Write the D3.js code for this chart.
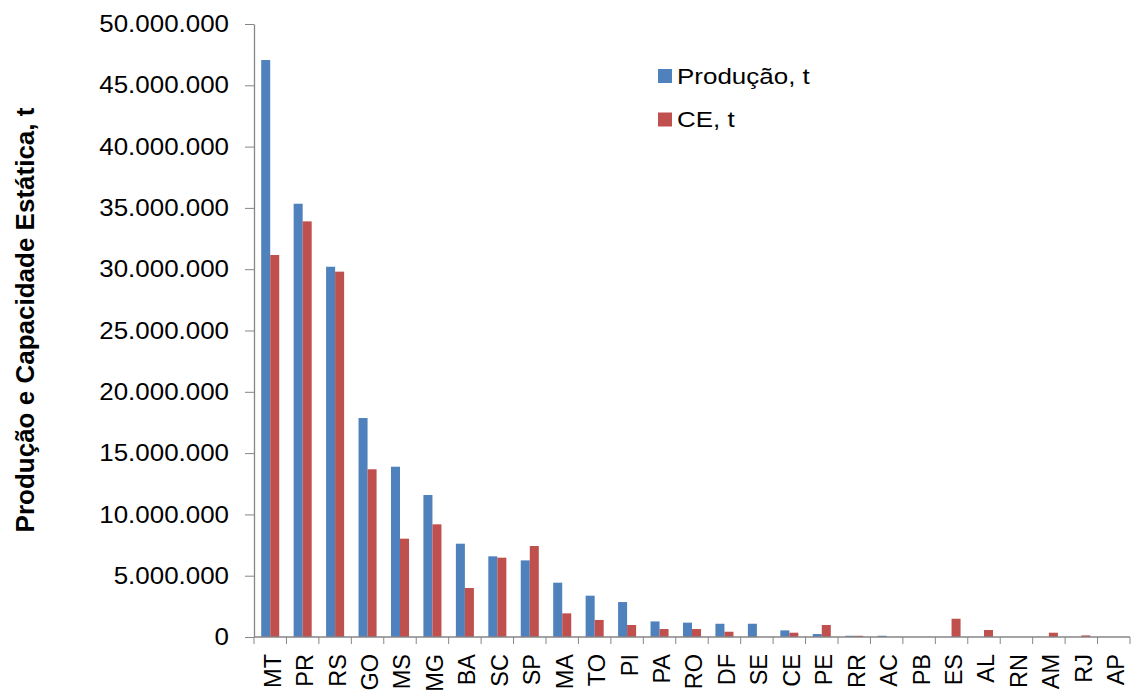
<!DOCTYPE html>
<meta charset="utf-8">
<style>
  body { margin: 0; background: #fff; }
  svg { display: block; font-family: Arial, "Liberation Sans", sans-serif; }
  .axis path, .axis line { stroke: #868686; }
  .ytick text { font-size: 24px; fill: #000; }
  .xtick text { font-size: 23.5px; fill: #000; }
  .legend text { font-size: 22px; }
</style>
<body>
<div id="chart"></div>
<script src="https://d3js.org/d3.v7.min.js"></script>
<script>
const states = ["MT","PR","RS","GO","MS","MG","BA","SC","SP","MA","TO","PI","PA","RO","DF","SE","CE","PE","RR","AC","PB","ES","AL","RN","AM","RJ","AP"];
const producao = [47060000,35340000,30200000,17860000,13890000,11580000,7610000,6580000,6250000,4430000,3370000,2850000,1270000,1170000,1080000,1080000,540000,240000,100000,100000,0,0,0,0,0,0,0];
const ce = [31160000,33900000,29800000,13680000,8020000,9190000,4000000,6470000,7420000,1930000,1390000,980000,650000,650000,430000,0,350000,980000,100000,0,0,1490000,570000,0,350000,130000,0];
const seriesNames = ["Produção, t", "CE, t"];
const seriesColors = ["#4F81BD", "#C0504D"];
const yTicks = [0,5000000,10000000,15000000,20000000,25000000,30000000,35000000,40000000,45000000,50000000];

const width = 1131, height = 693;
const plotLeft = 254, plotRight = 1130, plotTop = 24, plotBottom = 637;

const svg = d3.select("#chart").append("svg")
  .attr("width", width)
  .attr("height", height);

const x0 = d3.scaleBand()
  .domain(states)
  .range([plotLeft, plotRight])
  .paddingInner(0.444)
  .paddingOuter(0.222);

const x1 = d3.scaleBand()
  .domain([0, 1])
  .range([0, x0.bandwidth()]);

const y = d3.scaleLinear()
  .domain([0, 50000000])
  .range([plotBottom, plotTop]);

const ptBR = d3.formatLocale({decimal: ",", thousands: ".", grouping: [3], currency: ["", ""]});
const fmt = ptBR.format(",d");

// y axis (labels stretched a little, like the source rendering)
const yAxis = svg.append("g")
  .attr("class", "axis ytick")
  .attr("transform", `translate(${plotLeft},0)`)
  .call(d3.axisLeft(y).tickValues(yTicks).tickFormat(fmt).tickSize(9).tickPadding(16).tickSizeOuter(0));
yAxis.select(".domain").attr("stroke-width", 1.3);
yAxis.selectAll(".tick text").each(function() {
  const w = this.getComputedTextLength();
  d3.select(this).attr("textLength", w * 1.08).attr("lengthAdjust", "spacingAndGlyphs");
});

// bars
const data = states.map((s, i) => ({state: s, values: [producao[i], ce[i]]}));
const groups = svg.selectAll(".grp")
  .data(data)
  .join("g")
  .attr("class", "grp")
  .attr("transform", d => `translate(${x0(d.state)},0)`);

groups.selectAll("rect")
  .data(d => d.values.map((v, k) => ({k, v})))
  .join("rect")
  .attr("x", d => x1(d.k))
  .attr("width", x1.bandwidth())
  .attr("y", d => y(d.v))
  .attr("height", d => y(0) - y(d.v))
  .attr("fill", d => seriesColors[d.k]);

// x axis
const xg = svg.append("g")
  .attr("class", "axis xtick")
  .attr("transform", `translate(0,${plotBottom})`);
xg.append("line")
  .attr("x1", plotLeft).attr("x2", plotRight)
  .attr("stroke-width", 1.3);
xg.selectAll(".tk")
  .data(d3.range(states.length + 1))
  .join("line")
  .attr("class", "tk")
  .attr("x1", i => plotLeft + i * x0.step())
  .attr("x2", i => plotLeft + i * x0.step())
  .attr("y1", 0).attr("y2", 7);
xg.selectAll("text")
  .data(states)
  .join("text")
  .attr("transform", d => `translate(${x0(d) + x0.bandwidth() / 2 + 2},17) rotate(-90)`)
  .attr("text-anchor", "end")
  .attr("dy", "0.36em")
  .text(d => d);

// y title
svg.append("text")
  .attr("transform", `translate(33.5,320) rotate(-90)`)
  .attr("text-anchor", "middle")
  .style("font-size", "26px")
  .style("font-weight", "bold")
  .text("Produção e Capacidade Estática, t");

// legend
const legend = svg.append("g").attr("class", "legend");
seriesNames.forEach((name, i) => {
  const gy = 76 + i * 43.5;
  legend.append("rect")
    .attr("x", 658).attr("y", gy - 7)
    .attr("width", 14).attr("height", 14)
    .attr("fill", seriesColors[i]);
  const t = legend.append("text")
    .attr("x", 677).attr("y", gy)
    .attr("dy", "0.35em")
    .text(name);
  const w = t.node().getComputedTextLength();
  t.attr("textLength", w * 1.18).attr("lengthAdjust", "spacingAndGlyphs");
});
</script>
</body>
